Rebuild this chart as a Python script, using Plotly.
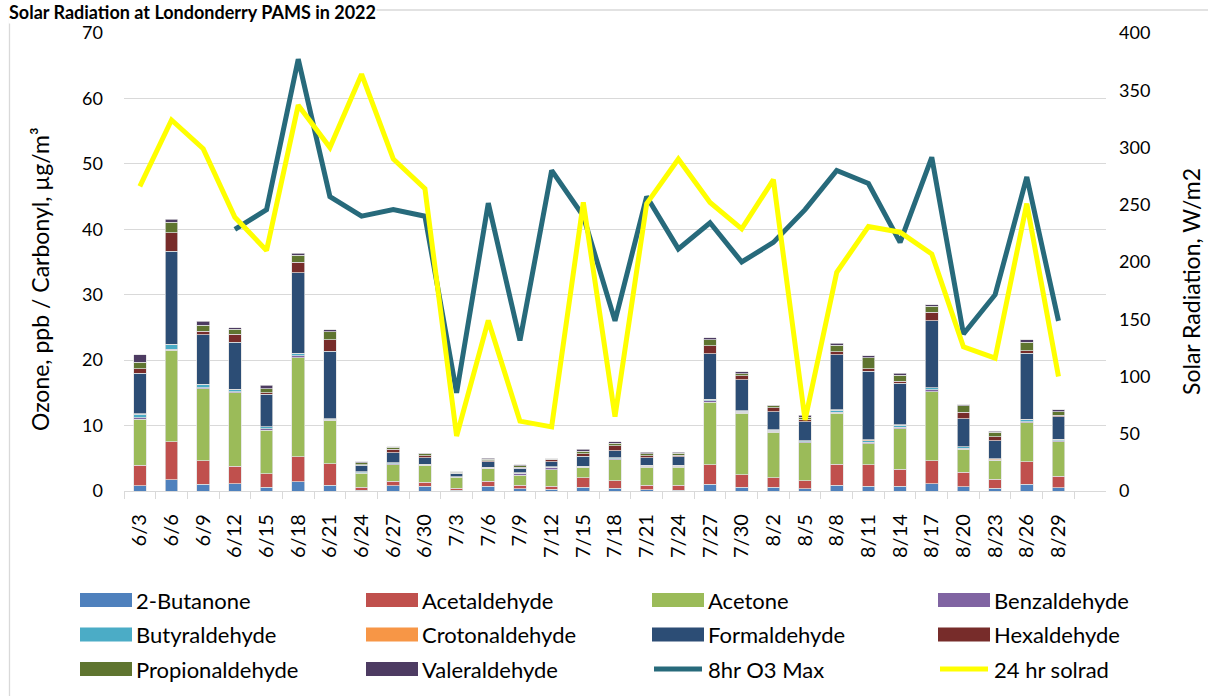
import plotly.graph_objects as go

# Sampling dates (every third day)
dates = ["6/3", "6/6", "6/9", "6/12", "6/15", "6/18", "6/21", "6/24", "6/27", "6/30",
         "7/3", "7/6", "7/9", "7/12", "7/15", "7/18", "7/21", "7/24", "7/27", "7/30",
         "8/2", "8/5", "8/8", "8/11", "8/14", "8/17", "8/20", "8/23", "8/26", "8/29"]

# Carbonyl concentrations, ug/m3
butanone = [0.8, 1.7, 1.0, 1.1, 0.6, 1.4, 0.9, 0.1, 0.8, 0.75,
            0.1, 0.7, 0.35, 0.3, 0.6, 0.45, 0.2, 0.15, 1.0, 0.6,
            0.55, 0.35, 0.9, 0.75, 0.75, 1.1, 0.65, 0.4, 1.0, 0.5]
acetaldehyde = [3.1, 5.85, 3.6, 2.7, 2.0, 3.8, 3.3, 0.5, 0.7, 0.55,
                0.3, 0.8, 0.55, 0.45, 1.4, 1.15, 0.7, 0.75, 3.0, 1.85,
                1.45, 1.25, 3.2, 3.25, 2.55, 3.5, 2.25, 1.4, 3.45, 1.75]
acetone = [7.1, 13.95, 11.0, 11.2, 6.7, 15.2, 6.5, 2.15, 2.5, 2.6,
           1.7, 1.9, 1.5, 2.5, 1.6, 3.2, 2.75, 2.75, 9.6, 9.45,
           7.0, 5.75, 7.75, 3.25, 6.25, 10.55, 3.5, 2.8, 5.95, 5.25]
benzaldehyde = [0.2, 0.2, 0.2, 0.15, 0.2, 0.25, 0.1, 0.05, 0.15, 0.05,
                0.05, 0.1, 0.2, 0.3, 0.05, 0.1, 0.15, 0.15, 0.2, 0.15,
                0.15, 0.2, 0.2, 0.2, 0.2, 0.35, 0.1, 0.1, 0.2, 0.15]
butyraldehyde = [0.5, 0.7, 0.5, 0.35, 0.3, 0.35, 0.2, 0.15, 0.15, 0.1,
                 0.05, 0.05, 0.15, 0.1, 0.1, 0.15, 0.1, 0.1, 0.2, 0.15,
                 0.15, 0.1, 0.3, 0.25, 0.3, 0.25, 0.25, 0.1, 0.3, 0.2]
crotonaldehyde = [0.1, 0.05, 0.05, 0.05, 0.05, 0.05, 0.05, 0.0, 0.05, 0.05,
                  0.0, 0.05, 0.05, 0.05, 0.05, 0.05, 0.05, 0.05, 0.05, 0.05,
                  0.05, 0.05, 0.05, 0.15, 0.05, 0.05, 0.05, 0.1, 0.05, 0.05]
formaldehyde = [6.2, 14.2, 7.5, 7.2, 4.9, 12.3, 10.3, 1.0, 1.5, 1.0,
                0.5, 0.9, 0.65, 0.75, 1.5, 1.05, 1.15, 1.3, 6.95, 4.75,
                2.8, 2.85, 8.45, 10.45, 6.35, 10.25, 4.25, 2.75, 10.1, 3.45]
hexaldehyde = [0.7, 2.8, 0.6, 1.2, 0.3, 1.6, 1.8, 0.1, 0.5, 0.3,
               0.05, 0.15, 0.15, 0.3, 0.4, 0.8, 0.3, 0.25, 1.2, 0.6,
               0.55, 0.4, 0.4, 0.4, 0.3, 1.25, 1.0, 0.65, 0.4, 0.2]
propionaldehyde = [1.0, 1.6, 0.9, 0.8, 0.6, 1.1, 1.2, 0.3, 0.3, 0.3,
                   0.15, 0.2, 0.25, 0.1, 0.4, 0.35, 0.3, 0.3, 0.9, 0.35,
                   0.3, 0.35, 1.0, 1.7, 0.95, 0.9, 1.0, 0.65, 1.3, 0.6]
valeraldehyde = [1.1, 0.5, 0.6, 0.2, 0.5, 0.3, 0.3, 0.1, 0.1, 0.1,
                 0.05, 0.15, 0.15, 0.1, 0.3, 0.25, 0.2, 0.1, 0.3, 0.25,
                 0.1, 0.3, 0.35, 0.3, 0.3, 0.25, 0.15, 0.15, 0.35, 0.25]

# Daily 8-hour ozone maximum (ppb) and 24-hour solar radiation (W/m2)
ozone_8hr_max = [None, None, None, 40, 43, 66, 45, 42, 43, 42,
                 15, 44, 23, 49, 42, 26, 45, 37, 41, 35,
                 38, 43, 49, 47, 38, 51, 24, 30, 48, 26]
solrad_24hr = [266, 324, 299, 239, 210, 337, 300, 364, 290, 264,
               48, 149, 61, 56, 252, 65, 251, 290, 252, 229,
               272, 62, 191, 231, 226, 207, 126, 116, 251, 100]

compound_names = ["2-Butanone", "Acetaldehyde", "Acetone", "Benzaldehyde", "Butyraldehyde",
                  "Crotonaldehyde", "Formaldehyde", "Hexaldehyde", "Propionaldehyde", "Valeraldehyde"]
compound_values = [butanone, acetaldehyde, acetone, benzaldehyde, butyraldehyde,
                   crotonaldehyde, formaldehyde, hexaldehyde, propionaldehyde, valeraldehyde]
compound_colors = ["#4F81BD", "#C0504D", "#9BBB59", "#8064A2", "#4BACC6",
                   "#F79646", "#2C4D75", "#772C2A", "#5F7530", "#4D3B62"]
ozone_color = "#276A7B"
solrad_color = "#FFFF00"

FONT = "Lato"
W, H = 1208, 696
M_L, M_R, M_T, M_B = 124, 102, 33, 205
PW, PH = W - M_L - M_R, H - M_T - M_B


def px_x(x):
    return (x - M_L) / PW


def px_y(y):
    return (H - M_B - y) / PH


fig = go.Figure()

for name, vals, col in zip(compound_names, compound_values, compound_colors):
    fig.add_trace(go.Bar(
        x=dates, y=vals, name=name, marker_color=col,
        marker_line=dict(color="rgba(225,225,225,0.9)", width=0.8),
        showlegend=False,
    ))

fig.add_trace(go.Scatter(
    x=dates, y=ozone_8hr_max, name="8hr O3 Max", mode="lines",
    line=dict(color=ozone_color, width=5), showlegend=False,
))
fig.add_trace(go.Scatter(
    x=dates, y=solrad_24hr, name="24 hr solrad", mode="lines", yaxis="y2",
    line=dict(color=solrad_color, width=5), showlegend=False,
))

# Legend laid out as a 4-column grid below the chart
legend_items = [(n, c, "bar") for n, c in zip(compound_names, compound_colors)]
legend_items += [("8hr O3 Max", ozone_color, "line"), ("24 hr solrad", solrad_color, "line")]
col_x = [80, 366, 652, 938]
row_y = [600, 634.5, 669]
shapes, annotations = [], []

# Chart-area frame
shapes.append(dict(type="rect", xref="paper", yref="paper",
                   x0=px_x(9.5), x1=px_x(1300), y0=px_y(900), y1=px_y(10),
                   line=dict(color="#D9D9D9", width=1.3), fillcolor="rgba(0,0,0,0)", layer="below"))

for i, (name, col, kind) in enumerate(legend_items):
    cx = col_x[i % 4]
    cy = row_y[i // 4]
    if kind == "bar":
        shapes.append(dict(type="rect", xref="paper", yref="paper",
                           x0=px_x(cx), x1=px_x(cx + 52), y0=px_y(cy + 7), y1=px_y(cy - 7),
                           fillcolor=col, line=dict(width=0)))
    else:
        shapes.append(dict(type="line", xref="paper", yref="paper",
                           x0=px_x(cx + 2), x1=px_x(cx + 50), y0=px_y(cy), y1=px_y(cy),
                           line=dict(color=col, width=5)))
    annotations.append(dict(text=name, xref="paper", yref="paper",
                            x=px_x(cx + 54), y=px_y(cy), xanchor="left", yanchor="middle",
                            showarrow=False, font=dict(family=FONT, size=22, color="#000000")))

# Chart title
annotations.append(dict(text="<b>Solar Radiation at Londonderry PAMS in 2022</b>",
                        xref="paper", yref="paper", x=px_x(8), y=px_y(0),
                        xanchor="left", yanchor="top", showarrow=False, bgcolor="white",
                        borderpad=0,
                        font=dict(family=FONT, size=18, color="#000000")))

# Axis titles
annotations.append(dict(text="Ozone, ppb / Carbonyl, µg/m³", textangle=-90,
                        xref="paper", yref="paper", x=px_x(40), y=px_y(279),
                        xanchor="center", yanchor="middle", showarrow=False, borderpad=0,
                        font=dict(family=FONT, size=23, color="#000000")))
annotations.append(dict(text="Solar Radiation, W/m2", textangle=-90,
                        xref="paper", yref="paper", x=px_x(1191), y=px_y(282),
                        xanchor="center", yanchor="middle", showarrow=False, borderpad=0,
                        font=dict(family=FONT, size=23, color="#000000")))

fig.update_layout(
    width=W, height=H,
    margin=dict(l=M_L, r=M_R, t=M_T, b=M_B),
    paper_bgcolor="white", plot_bgcolor="white",
    barmode="stack", bargap=0.6,
    font=dict(family=FONT, color="#000000"),
    shapes=shapes, annotations=annotations,
    xaxis=dict(type="category", categoryorder="array", categoryarray=dates,
               range=[-0.5, 30.5], tickangle=-90,
               tickfont=dict(family=FONT, size=20, color="#000000"),
               ticks="outside", tickson="boundaries", ticklen=7, tickcolor="#D9D9D9",
               tickwidth=1.3, ticklabelstandoff=14,
               showline=True, linecolor="#D9D9D9", linewidth=1.3, showgrid=False),
    yaxis=dict(range=[0, 70], dtick=10, showgrid=True, gridcolor="#D9D9D9", gridwidth=1.3,
               zeroline=False, ticks="", ticklabelstandoff=20,
               tickfont=dict(family=FONT, size=18, color="#000000")),
    yaxis2=dict(range=[0, 400], dtick=50, overlaying="y", side="right", showgrid=False,
                zeroline=False, ticks="", ticklabelstandoff=12,
                tickfont=dict(family=FONT, size=18, color="#000000")),
)

fig.write_html("out.html")
